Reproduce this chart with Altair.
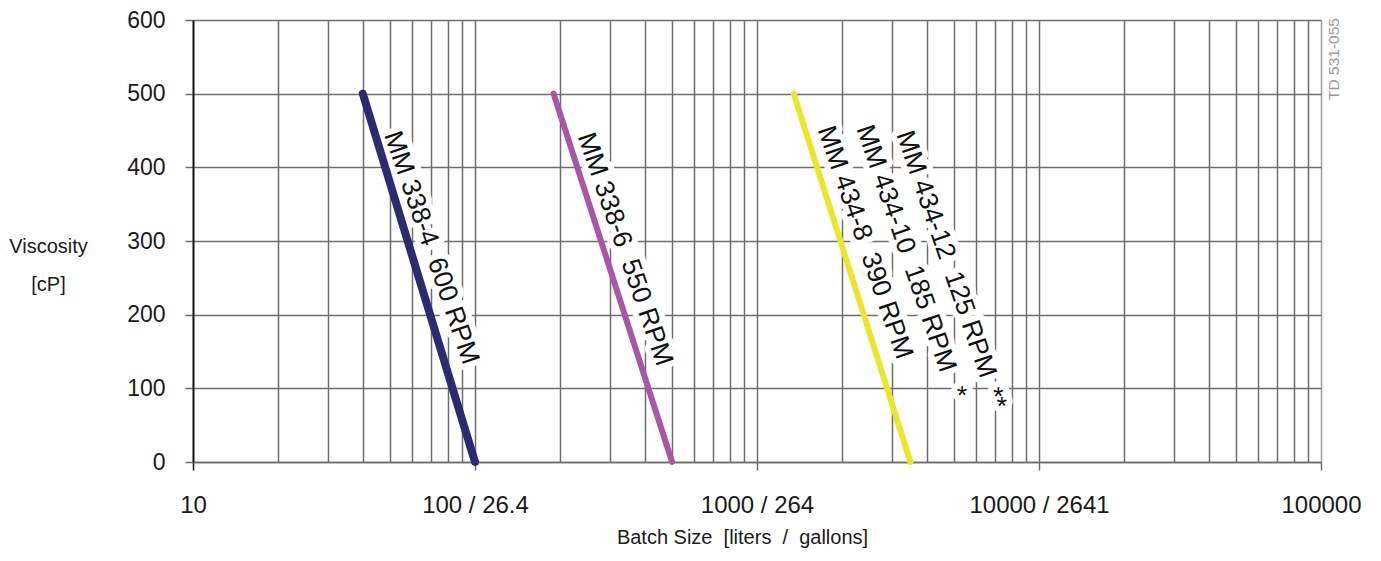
import altair as alt
import pandas as pd

# ---- data ----
line_names = ["MM 338-4", "MM 338-6", "MM 434"]
line_colors = ["#2e2a6f", "#a757a6", "#ebe52d"]
line_widths = [8, 6, 6]
batch_at_top = [40, 190, 1350]
batch_at_bottom = [100, 500, 3500]
visc_top = [500, 500, 500]
visc_bottom = [0, 0, 0]

label_texts = ["MM 338-4  600 RPM", "MM 338-6  550 RPM", "MM 434-8  390 RPM",
               "MM 434-10  185 RPM", "MM 434-12  125 RPM", "*", "**"]
label_batch = [70, 340, 2415, 3373, 4677, 5117, 6980]
label_visc = [291, 289, 298, 290, 282, 94, 86]

x_tick_values = [m * 10 ** e for e in range(1, 5) for m in range(1, 10)] + [100000]
x_major_values = [10, 100, 1000, 10000, 100000]
x_major_labels = ["10", "100 / 26.4", "1000 / 264", "10000 / 2641", "100000"]
y_tick_values = [0, 100, 200, 300, 400, 500, 600]

FONT = "Liberation Sans"
GRID = "#6e6e6e"

rows = []
for n, c, w, xt, xb, yt, yb in zip(line_names, line_colors, line_widths,
                                    batch_at_top, batch_at_bottom, visc_top, visc_bottom):
    rows.append({"series": n, "batch": xt, "visc": yt, "color": c, "w": w})
    rows.append({"series": n, "batch": xb, "visc": yb, "color": c, "w": w})
lines_df = pd.DataFrame(rows)

labels_df = pd.DataFrame({
    "text": [t.replace("  ", " \u00a0") for t in label_texts],
    "batch": label_batch,
    "visc": label_visc,
})

expr_parts = " : ".join(
    f"datum.value == {v} ? '{l}'" for v, l in zip(x_major_values, x_major_labels)
) + " : ''"
major_test = "indexof([" + ",".join(str(v) for v in x_major_values) + "], datum.value) >= 0"

x_scale = alt.Scale(type="log", domain=[10, 100000], nice=False)
y_scale = alt.Scale(domain=[0, 600], nice=False)

x_axis = alt.Axis(
    values=x_tick_values, labelExpr=expr_parts,
    grid=True, gridColor={"condition": {"test": "datum.value == 100000", "value": "#9a9a9a"}, "value": GRID},
    gridWidth=1.5,
    ticks=True, tickSize=8, tickWidth=1.5,
    tickColor={"condition": {"test": "datum.value == 10", "value": "#111111"}, "value": GRID},
    tickOpacity={"condition": {"test": major_test, "value": 1}, "value": 0},
    domainColor=GRID, domainWidth=1.5,
    labelFont=FONT, labelFontSize=24, labelColor="#1a1a1a", labelPadding=23,
    labelFlush=False, labelOverlap=False,
    title="Batch Size\u00a0 [liters\u00a0 /\u00a0 gallons]",
    titleFont=FONT, titleFontSize=20, titleFontWeight="normal", titleColor="#1a1a1a",
    titleX=549, titleY=81, titleBaseline="alphabetic", titleAlign="center",
)
y_axis = alt.Axis(
    values=y_tick_values, grid=True, gridColor=GRID, gridWidth=1.5,
    tickSize=8, tickWidth=1.5, tickColor=GRID,
    domainColor="#111111", domainWidth=1.8,
    labelFont=FONT, labelFontSize=23, labelColor="#1a1a1a", labelPadding=20,
    title=["Viscosity", "[cP]"], titleAngle=0, titleX=-145, titleY=216,
    titleAlign="center", titleBaseline="top", titleLineHeight=38,
    titleFont=FONT, titleFontSize=20, titleFontWeight="normal", titleColor="#1a1a1a",
)

base_lines = alt.Chart(lines_df).mark_line(strokeCap="round").encode(
    x=alt.X("batch:Q", scale=x_scale, axis=x_axis),
    y=alt.Y("visc:Q", scale=y_scale, axis=y_axis),
    detail="series:N",
    color=alt.Color("color:N", scale=None),
    strokeWidth=alt.StrokeWidth("w:Q", scale=None),
)

halo = alt.Chart(labels_df).mark_text(
    font=FONT, fontSize=26.5, angle=71, align="center", baseline="middle",
    stroke="white", strokeWidth=12, strokeJoin="round", fill="white",
).encode(
    x=alt.X("batch:Q", scale=x_scale),
    y=alt.Y("visc:Q", scale=y_scale),
    text="text:N",
)

texts = alt.Chart(labels_df).mark_text(
    font=FONT, fontSize=26.5, angle=71, align="center", baseline="middle", color="#111111",
).encode(
    x=alt.X("batch:Q", scale=x_scale),
    y=alt.Y("visc:Q", scale=y_scale),
    text="text:N",
)

td = alt.Chart(pd.DataFrame({"t": ["TD 531-055"]})).mark_text(
    font=FONT, fontSize=15.5, angle=270, align="center", baseline="middle", color="#999999",
).encode(
    x=alt.value(1141), y=alt.value(39), text="t:N",
)

chart = alt.layer(halo, base_lines, texts, td).properties(
    width=1128, height=442,
    autosize=alt.AutoSizeParams(type="none"),
    padding={"left": 185, "top": 12, "right": 52, "bottom": 91},
).configure_view(stroke=None).configure(background="white")

chart.save("out.html", embed_options={"renderer": "svg", "actions": False})
